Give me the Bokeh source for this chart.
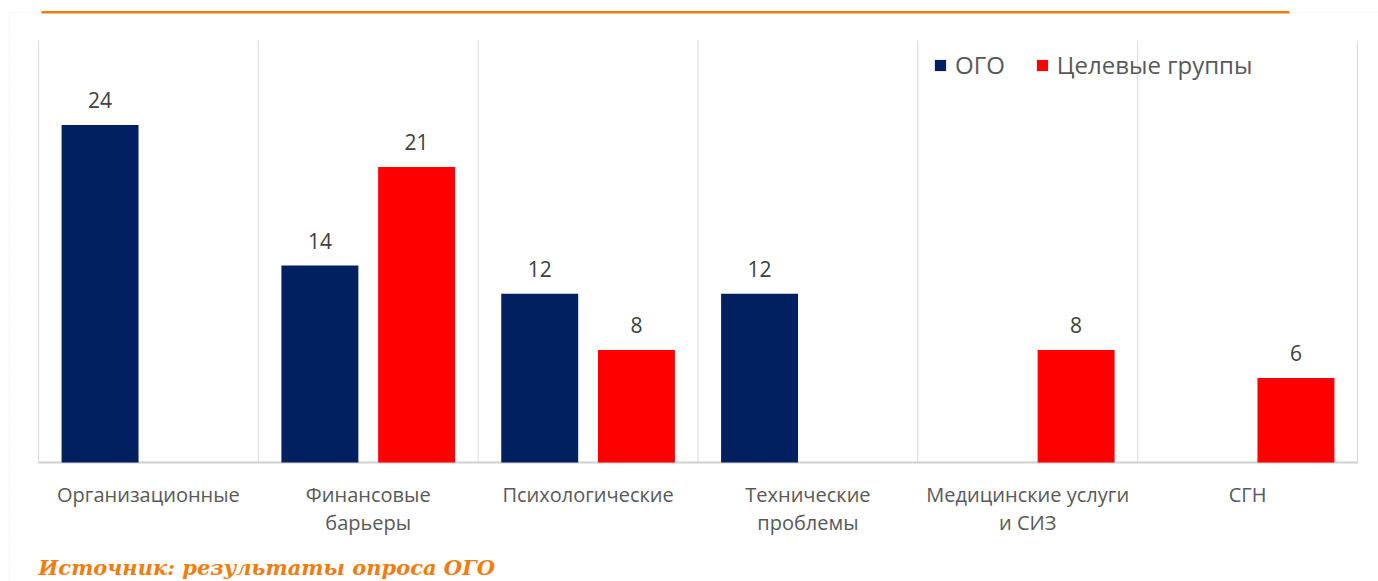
from bokeh.plotting import figure
from bokeh.models import Range1d, Label, Legend, LegendItem, ColumnDataSource, BoxAnnotation
from bokeh.core.properties import value
from bokeh.embed import file_html
from bokeh.resources import INLINE

categories = [["Организационные"], ["Финансовые", "барьеры"], ["Психологические"],
              ["Технические", "проблемы"], ["Медицинские услуги", "и СИЗ"], ["СГН"]]
ogo = [24, 14, 12, 12, 0, 0]
target = [0, 21, 8, 0, 8, 6]
series_names = ["ОГО", "Целевые группы"]
source_text = "Источник: результаты опроса ОГО"

OGO_C = "#002060"
TG_C = "#FF0000"
ORANGE = "#F07D12"

W, H = 1378, 581
n = len(categories)
# plot area in pixels: x 38..1357, y 40..462 ; frame is the whole canvas
cat_px = (1357 - 38) / n
y_px = (462 - 40) / 30
x_range = Range1d(-38 / cat_px, (W - 38) / cat_px)
y_range = Range1d(-(H - 462) / y_px, 30 + 40 / y_px)

p = figure(width=W, height=H, output_backend="svg", toolbar_location=None,
           x_range=x_range, y_range=y_range,
           min_border_left=0, min_border_right=0, min_border_top=0, min_border_bottom=0)
p.outline_line_color = None
p.background_fill_color = "white"
p.border_fill_color = "white"
p.axis.visible = False
p.grid.visible = False

bounds = list(range(n + 1))
p.segment(x0=bounds, y0=[0] * len(bounds), x1=bounds, y1=[30] * len(bounds),
          line_color="#D9D9D9", line_width=1)
p.segment(x0=[0], y0=[0], x1=[n], y1=[0], line_color="#D0D0D0", line_width=2)

xs = [i + 0.5 for i in range(n)]
off = 0.22
bw = 0.35

def keep(vals, shift):
    x = [xi + shift for xi, v in zip(xs, vals) if v > 0]
    t = [v for v in vals if v > 0]
    return ColumnDataSource(dict(x=x, top=t, lab=[str(v) for v in t]))

s1 = keep(ogo, -off)
s2 = keep(target, off)
r1 = p.vbar(x="x", top="top", width=bw, source=s1, fill_color=OGO_C, line_color=None)
r2 = p.vbar(x="x", top="top", width=bw, source=s2, fill_color=TG_C, line_color=None)
for s in (s1, s2):
    p.text(x="x", y="top", text="lab", source=s, text_align="center", text_baseline="middle",
           y_offset=-25, text_font=value("Open Sans"), text_font_size="21px", text_color="#404040")

# category labels
for i, lines in enumerate(categories):
    for j, t in enumerate(lines):
        p.add_layout(Label(x=xs[i], y=H - 494 - 28 * j, y_units="screen", text=t,
                           text_align="center", text_baseline="middle",
                           text_font="Open Sans", text_font_size="20px", text_color="#595959"))

legend = Legend(items=[LegendItem(label=series_names[0], renderers=[r1]),
                       LegendItem(label=series_names[1], renderers=[r2])],
                orientation="horizontal", location=(933, H - 81),
                label_text_font="Open Sans", label_text_font_size="24px",
                label_text_color="#595959", glyph_width=14, glyph_height=14,
                label_standoff=8, spacing=30, padding=0, margin=0,
                border_line_color=None, background_fill_alpha=0)
p.add_layout(legend)

# outer box border
p.add_layout(BoxAnnotation(left=9, right=W + 20, top=H - 12, bottom=-50, left_units="screen",
                           right_units="screen", top_units="screen", bottom_units="screen",
                           fill_alpha=0, line_color="#D9D9D9", line_width=1, line_dash="2 1"))
# title underline
p.add_layout(BoxAnnotation(left=41, right=1289, top=H - 10.5, bottom=H - 13, left_units="screen",
                           right_units="screen", top_units="screen", bottom_units="screen",
                           fill_color=ORANGE, fill_alpha=1, line_color=None))

p.add_layout(Label(x=38, y=H - 567, x_units="screen", y_units="screen", text=source_text,
                   text_baseline="middle", text_font="DejaVu Serif", text_font_style="bold italic",
                   text_font_size="21px", text_color=ORANGE))

open("out.html", "w").write(file_html(p, INLINE))
